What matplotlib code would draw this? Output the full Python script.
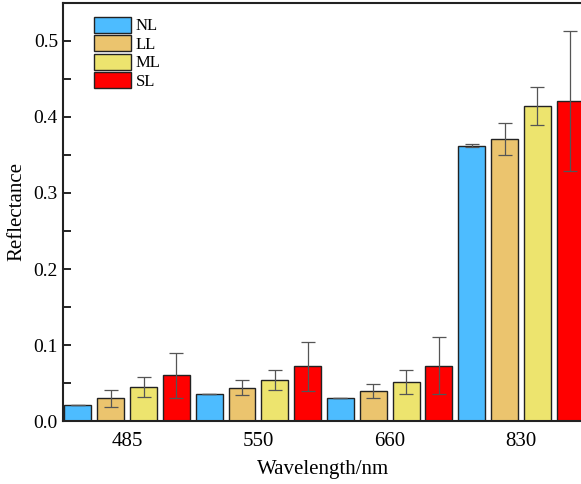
import numpy as np
import matplotlib.pyplot as plt
from matplotlib.ticker import MultipleLocator

plt.rcParams['font.family'] = ['Liberation Serif', 'DejaVu Serif']

wavelengths = ['485', '550', '660', '830']
series = ['NL', 'LL', 'ML', 'SL']
colors = ['#4DBCFF', '#EBC46E', '#EDE46E', '#FF0000']

values = {
    'NL': [0.021, 0.035, 0.031, 0.362],
    'LL': [0.030, 0.044, 0.040, 0.371],
    'ML': [0.045, 0.054, 0.051, 0.415],
    'SL': [0.060, 0.072, 0.073, 0.421],
}
errors = {
    'NL': [0.0, 0.0, 0.0, 0.002],
    'LL': [0.011, 0.010, 0.009, 0.021],
    'ML': [0.013, 0.013, 0.016, 0.025],
    'SL': [0.029, 0.032, 0.038, 0.092],
}

fig = plt.figure(figsize=(5.81, 4.84), dpi=100)
ax = fig.add_axes([0.108, 0.130, 0.895, 0.864])

x = np.arange(len(wavelengths))
step = 0.25
width = 0.205
for i, s in enumerate(series):
    pos = x + (i - 1.5) * step
    ax.bar(pos, values[s], width, color=colors[i], edgecolor='#222222',
           linewidth=1.0, label=s, zorder=2)
    ax.errorbar(pos, values[s], yerr=errors[s], fmt='none', ecolor='#555555',
                elinewidth=0.9, capsize=5, capthick=0.9, zorder=3)

ax.set_xlim(-0.49, 3.47)
ax.set_ylim(0, 0.55)
ax.set_xticks(x)
ax.set_xticklabels(wavelengths, fontsize=15)
ax.tick_params(axis='x', length=0, pad=8)
ax.yaxis.set_major_locator(MultipleLocator(0.1))
ax.yaxis.set_minor_locator(MultipleLocator(0.05))
ax.tick_params(axis='y', which='both', direction='in', labelsize=14, width=1.2)
ax.tick_params(axis='y', which='major', length=6)
ax.tick_params(axis='y', which='minor', length=6)
ax.set_yticklabels([f'{v:.1f}' for v in ax.get_yticks()])

for sp in ['left', 'bottom', 'top']:
    ax.spines[sp].set_linewidth(1.5)
    ax.spines[sp].set_color('#222222')
ax.spines['right'].set_visible(False)

ax.set_xlabel('Wavelength/nm', fontsize=15, labelpad=6)
ax.set_ylabel('Reflectance', fontsize=15, labelpad=5)

ax.legend(loc='upper left', bbox_to_anchor=(0.038, 0.995), frameon=False,
          fontsize=12, handlelength=2.2, handleheight=1.1, labelspacing=0.05,
          handletextpad=0.3, borderaxespad=0.3)

fig.savefig('out.png', dpi=100)
